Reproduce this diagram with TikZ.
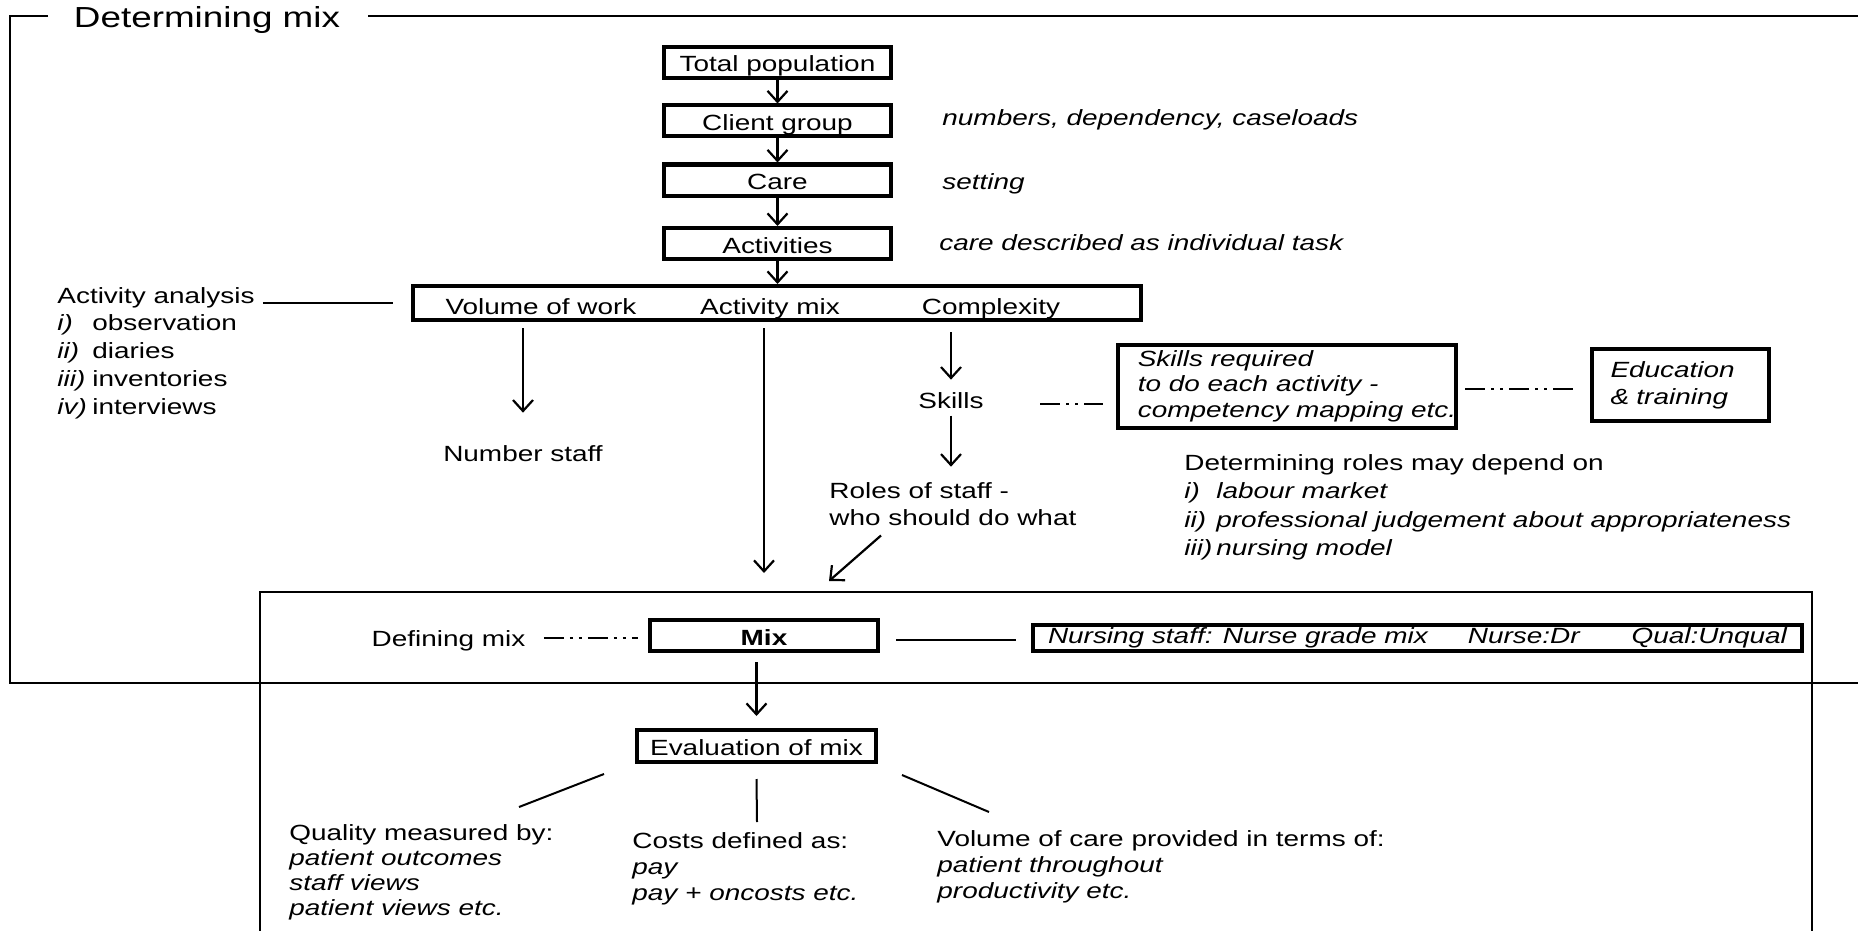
\documentclass[tikz,border=0pt]{standalone}
\usepackage{fontspec}
\setmainfont{Liberation Sans}[FakeStretch=1.27]
\usetikzlibrary{arrows.meta,calc}
\begin{document}
\begin{tikzpicture}[x=0.5pt,y=-0.5pt,
  every node/.style={inner sep=0pt, font=\fontsize{11}{12.75}\selectfont},
  ann/.style={font=\fontsize{11}{12.75}\selectfont\itshape},
  ctr/.style={text height=9.5pt, text depth=0pt},
  flow/.style={draw, line width=2pt, minimum width=113.5pt, minimum height=15.5pt, ctr},
  arr/.style={line width=1.1pt, -{Straight Barb[length=5.5pt,width=10pt]}},
  link/.style={line width=1pt},
  dd/.style={line width=1pt, dash pattern=on 10pt off 3pt on 1.5pt off 3pt on 1.5pt off 3pt},
  frame/.style={line width=1.2pt},
  ]
\useasboundingbox (0,0) rectangle (1858,931);
\fill[white] (0,0) rectangle (1858,931);
\clip (0,0) rectangle (1858,931);

% frames
\node[anchor=base, font=\fontsize{14.5}{17}\selectfont] (title) at (207,28) {Determining mix};
\draw[frame] (48,16) -- (10,16) -- (10,683) -- (1870,683);
\draw[frame] (368,16) -- (1870,16);
\draw[frame] (260,945) -- (260,592) -- (1812,592) -- (1812,945);

% main flow
\node[flow] (tp) at (777.5,62.5) {Total population};
\node[flow] (cg) at (777.5,121) {Client group};
\node[flow] (care) at (777.5,180) {Care};
\node[flow] (act) at (777.5,243.5) {Activities};
\node[draw, line width=2pt, minimum width=364pt, minimum height=17pt] (big) at (777,303) {};
\node[anchor=base] (vow) at (541,314) {Volume of work};
\node[anchor=base] (amix) at (770,314) {Activity mix};
\node[anchor=base] (cplx) at (991,314) {Complexity};

\node[ann, anchor=base west] (n1) at (942,126) {numbers, dependency, caseloads};
\node[ann, anchor=base west] (n2) at (942,190) {setting};
\node[ann, anchor=base west] (n3) at (939,250) {care described as individual task};

\draw[arr] (tp) -- (cg);
\draw[arr] (cg) -- (care);
\draw[arr] (care) -- (act);
\draw[arr] (act.south) -- (act.south |- big.north);

% activity analysis
\node[anchor=base west] (aa) at (57,303) {Activity analysis};
\node[anchor=base west, font=\fontsize{11}{14.15}\selectfont] (aalist) at (57,330) {\begin{tabular}[t]{@{}l@{}}\makebox[17.5pt][l]{\itshape i)}observation\\\makebox[17.5pt][l]{\itshape ii)}diaries\\\makebox[17.5pt][l]{\itshape iii)}inventories\\\makebox[17.5pt][l]{\itshape iv)}interviews\end{tabular}};
\draw[link, shorten <=4pt, shorten >=9pt] (aa.base east) -- (aa.base east -| big.west);

% below big box
\node[anchor=base] (nstaff) at (523,461) {Number staff};
\node[anchor=base] (skills) at (951,408) {Skills};
\node[anchor=base west, font=\fontsize{11}{13.5}\selectfont] (roles) at (829,498) {\begin{tabular}[t]{@{}l@{}}Roles of staff -\\who should do what\end{tabular}};

\node[draw, line width=2pt, inner xsep=0pt, minimum width=168pt, minimum height=41.5pt, font=\fontsize{11}{12.75}\selectfont\itshape] (skreq) at (1287,386.5) {\raisebox{-2pt}{\begin{tabular}{@{\hspace{10pt}}l@{}}Skills required\\to do each activity -\\competency mapping etc.\end{tabular}}};
\node[draw, line width=2pt, inner xsep=9.25pt, text width=70pt, align=left, minimum height=36pt, font=\fontsize{11}{13.5}\selectfont\itshape] (edu) at (1680.5,385) {Education\\\& training};

\node[anchor=base west, font=\fontsize{11}{14.25}\selectfont] (detroles) at (1184,470) {\begin{tabular}[t]{@{}l@{}}Determining roles may depend on\\\itshape\makebox[16pt][l]{i)}labour market\\\itshape\makebox[16pt][l]{ii)}professional judgement about appropriateness\\\itshape\makebox[16pt][l]{iii)}nursing model\end{tabular}};

% mix row
\node[draw, line width=2pt, minimum width=114pt, minimum height=15.5pt, ctr, font=\fontsize{11}{12.75}\selectfont\bfseries] (mix) at (764,635.5) {Mix};
\node[anchor=base] (defmix) at (448.5,646) {Defining mix};
\node[draw, line width=2pt, minimum width=384.5pt, minimum height=13pt, ann] (nurse) at (1417.5,638) {Nursing staff: Nurse grade mix\hspace{20pt}Nurse:Dr\hspace{26pt}Qual:Unqual};

\node[draw, line width=2pt, minimum width=119.5pt, minimum height=16pt, ctr] (eval) at (756.5,746) {Evaluation of mix};

\node[anchor=base west, font=\fontsize{11}{12.65}\selectfont] (qual) at (289,840) {\begin{tabular}[t]{@{}l@{}}Quality measured by:\\\itshape patient outcomes\\\itshape staff views\\\itshape patient views etc.\end{tabular}};
\node[anchor=base west, font=\fontsize{11}{13}\selectfont] (costs) at (632,848) {\begin{tabular}[t]{@{}l@{}}Costs defined as:\\\itshape pay\\\itshape pay + oncosts etc.\end{tabular}};
\node[anchor=base west, font=\fontsize{11}{13}\selectfont] (volc) at (937,846) {\begin{tabular}[t]{@{}l@{}}Volume of care provided in terms of:\\\itshape patient throughout\\\itshape productivity etc.\end{tabular}};

% connectors
\draw[arr, shorten <=3pt] (big.south -| nstaff) -- ($(nstaff.north)+(0,-32)$);
\draw[arr, shorten <=3pt] (big.south -| mix) -- ($(mix.north)+(0,-45)$);
\draw[arr, shorten <=5pt] (big.south -| skills) -- ($(skills.north)+(0,-12)$);
\draw[arr] ($(skills.south)+(0,7)$) -- ($(skills.south |- roles.north)+(0,-12)$);
\coordinate (rolesend) at ($(mix.north)+(65,-37)$);
\draw[arr] ($(roles.south west)+(52,2)$) -- (rolesend);

\draw[dd] ($(skills.east)+(56,4)$) -- ($(skreq.west |- skills.east)+(-13,4)$);
\draw[dd] ($(skreq.east)+(7,2.5)$) -- ($(edu.west |- skreq.east)+(-13,2.5)$);
\draw[dd] ($(defmix.east |- mix.west)+(18,2)$) -- ($(mix.west)+(-10,2)$);
\draw[link] ($(mix.east)+(16,4.5)$) -- ($(nurse.west |- mix.east)+(-15,4.5)$);

\draw[arr] ($(eval.north |- mix.south)+(0,9)$) -- ($(eval.north)+(0,-12)$);

\draw[link] ($(eval.south west)+(-31,10)$) -- ($(qual.base west)+(230,-33)$);
\draw[link] ($(eval.south)+(0,15)$) -- ($(costs.base west)+(125,-26)$);
\draw[link] ($(eval.south east)+(24,11)$) -- ($(volc.base west)+(52,-34)$);
\end{tikzpicture}
\end{document}
